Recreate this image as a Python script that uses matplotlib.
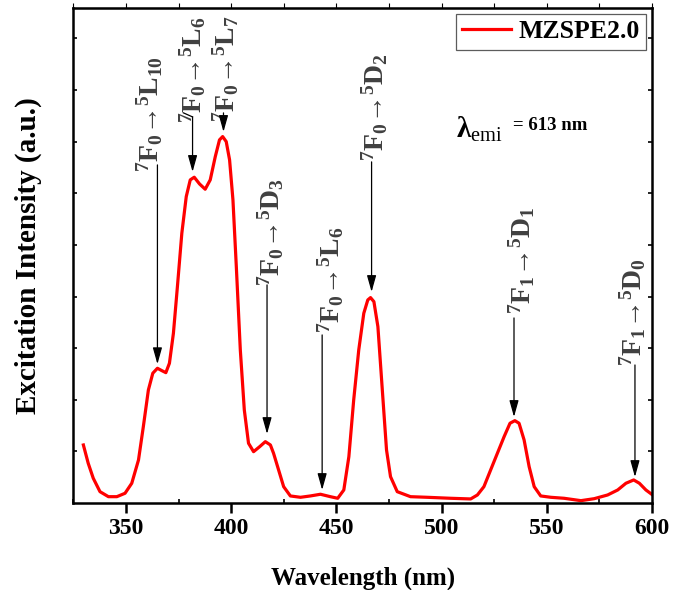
import matplotlib
matplotlib.use('Agg')
import matplotlib.pyplot as plt

# ---------------- data ----------------
wavelength = [329.7, 332.0, 334.4, 337.6, 341.6, 345.6, 349.5, 352.7, 355.9, 358.2,
              360.6, 362.7, 364.9, 367.0, 368.9, 370.6, 372.5, 374.4, 376.5, 378.6,
              380.5, 382.4, 384.9, 387.6, 390.0, 392.4, 394.4, 395.9, 397.6, 399.2,
              400.8, 402.4, 404.3, 406.2, 408.2, 410.6, 413.5, 416.2, 418.6, 420.1,
              422.5, 424.9, 428.1, 432.9, 437.6, 442.4, 447.1, 450.6, 453.5, 455.9,
              458.2, 460.6, 463.0, 464.9, 466.2, 467.8, 469.7, 471.8, 473.8, 475.7,
              478.9, 485.2, 493.2, 504.3, 513.8, 517.0, 520.1, 523.3, 526.5, 529.7,
              532.5, 534.8, 536.8, 539.2, 541.6, 544.0, 547.1, 551.9, 558.2, 566.2,
              572.5, 578.9, 583.7, 587.6, 591.3, 594.0, 597.1, 600.3]
intensity = [112.4, 76.9, 47.9, 21.9, 12.2, 12.2, 18.8, 38.2, 83.3, 147.9,
             219.0, 251.4, 261.0, 256.4, 252.5, 270.7, 328.9, 419.2, 522.7, 593.6,
             626.0, 631.2, 618.2, 607.9, 626.0, 671.1, 703.5, 709.9, 700.2, 664.7,
             587.2, 458.0, 296.5, 180.2, 115.7, 99.4, 109.1, 118.8, 112.4, 96.3,
             64.0, 31.6, 13.6, 11.0, 13.6, 16.9, 12.2, 9.1, 25.2, 89.7,
             199.6, 296.5, 367.6, 393.4, 397.9, 390.1, 341.7, 219.0, 102.7, 51.0,
             21.9, 12.2, 11.0, 9.1, 7.8, 15.5, 31.6, 64.0, 96.3, 128.5,
             154.5, 159.5, 154.5, 122.1, 70.3, 31.6, 13.6, 11.0, 9.1, 4.5,
             8.3, 15.5, 25.2, 38.2, 44.6, 38.2, 25.2, 15.5]

series_label = 'MZSPE2.0'
x_ticks = [350, 400, 450, 500, 550, 600]

# transition annotations
trans_labels = [r'${}^{7}\mathrm{F}_{0}$→${}^{5}\mathrm{L}_{10}$',
                r'${}^{7}\mathrm{F}_{0}$→${}^{5}\mathrm{L}_{6}$',
                r'${}^{7}\mathrm{F}_{0}$→${}^{5}\mathrm{L}_{7}$',
                r'${}^{7}\mathrm{F}_{0}$→${}^{5}\mathrm{D}_{3}$',
                r'${}^{7}\mathrm{F}_{0}$→${}^{5}\mathrm{L}_{6}$',
                r'${}^{7}\mathrm{F}_{0}$→${}^{5}\mathrm{D}_{2}$',
                r'${}^{7}\mathrm{F}_{1}$→${}^{5}\mathrm{D}_{1}$',
                r'${}^{7}\mathrm{F}_{1}$→${}^{5}\mathrm{D}_{0}$']
label_x = [361.4, 381.9, 397.6, 419.0, 447.1, 468.1, 538.1, 591.0]
label_y = [641.5, 736.0, 738.0, 420.5, 329.5, 662.8, 366.3, 265.5]
arrow_x = [364.9, 381.6, 396.3, 417.0, 443.2, 466.7, 534.4, 591.9]
arrow_start = [655.0, 748.0, 755.8, 422.5, 325.6, 660.9, 358.5, 267.4]
arrow_tip = [269.0, 641.5, 719.0, 133.7, 25.2, 408.9, 166.7, 50.4]
# bent leader of the second label
bend_x = [377.3, 381.6]
bend_y = [755.8, 748.0]

# ---------------- style ----------------
plt.rcParams['font.family'] = 'Liberation Serif'
plt.rcParams['font.weight'] = 'bold'
plt.rcParams['mathtext.fontset'] = 'custom'
plt.rcParams['mathtext.rm'] = 'Liberation Serif:bold'
plt.rcParams['mathtext.it'] = 'Liberation Serif:bold'
plt.rcParams['mathtext.bf'] = 'Liberation Serif:bold'
plt.rcParams['mathtext.sf'] = 'Liberation Serif:weight=normal'

fig = plt.figure(figsize=(6.73, 5.90), dpi=100)
ax = fig.add_axes([0.1092, 0.1475, 0.8596, 0.8389])

ax.plot(wavelength, intensity, color='#ff0000', lw=2.3, label=series_label,
        solid_joinstyle='round')

ax.set_xlim(325, 600)
ax.set_ylim(0, 959)
ax.set_xticks(x_ticks)
ax.set_xticks([325, 375, 425, 475, 525, 575], minor=True)
ax.set_yticks(range(100, 1000, 100))
ax.set_yticklabels([])

for s in ax.spines.values():
    s.set_linewidth(1.8)

ax.tick_params(axis='x', which='major', direction='out', length=7, width=1.8,
               labelsize=17, pad=4, top=False)
ax.tick_params(axis='x', which='minor', direction='in', length=3, width=1.2, top=False)
ax.tick_params(axis='y', which='major', direction='in', length=3, width=1.2,
               left=True, right=True)
ax.secondary_xaxis('top').set_xticks(range(325, 601, 25), labels=[])
for lab in ax.get_xticklabels():
    lab.set_fontweight('bold')

ax.set_xlabel('Wavelength (nm)', fontsize=18, fontweight='bold', labelpad=20)
ax.set_ylabel('Excitation Intensity (a.u.)', fontsize=21, fontweight='bold', labelpad=19)

# transition annotations
for lab, tx, ty, axx, a0, a1 in zip(trans_labels, label_x, label_y, arrow_x,
                                     arrow_start, arrow_tip):
    ax.text(tx, ty, lab, rotation=90, rotation_mode='anchor', ha='left', va='center',
            fontsize=20, color='#404040')
    ax.annotate('', xy=(axx, a1), xytext=(axx, a0),
                arrowprops=dict(arrowstyle='-|>,head_length=0.5,head_width=0.14',
                                color='black', lw=0.9, mutation_scale=20,
                                shrinkA=0, shrinkB=0))
ax.plot(bend_x, bend_y, color='black', lw=0.9)

# emission wavelength note
ax.text(506.7, 707, r'$\lambda_{\mathsf{emi}}$', fontsize=21, color='black', va='baseline')
ax.text(533.8, 723, '= 613 nm', fontsize=13.5, fontweight='bold', color='black', va='baseline')

leg = ax.legend(loc='upper right', fontsize=18.5, frameon=True, fancybox=False,
                edgecolor='#333333', borderaxespad=0.22, handlelength=1.9,
                handletextpad=0.3, borderpad=0.25)
leg.get_frame().set_linewidth(0.9)
for t in leg.get_texts():
    t.set_fontweight('bold')

fig.savefig('out.png', dpi=100)
